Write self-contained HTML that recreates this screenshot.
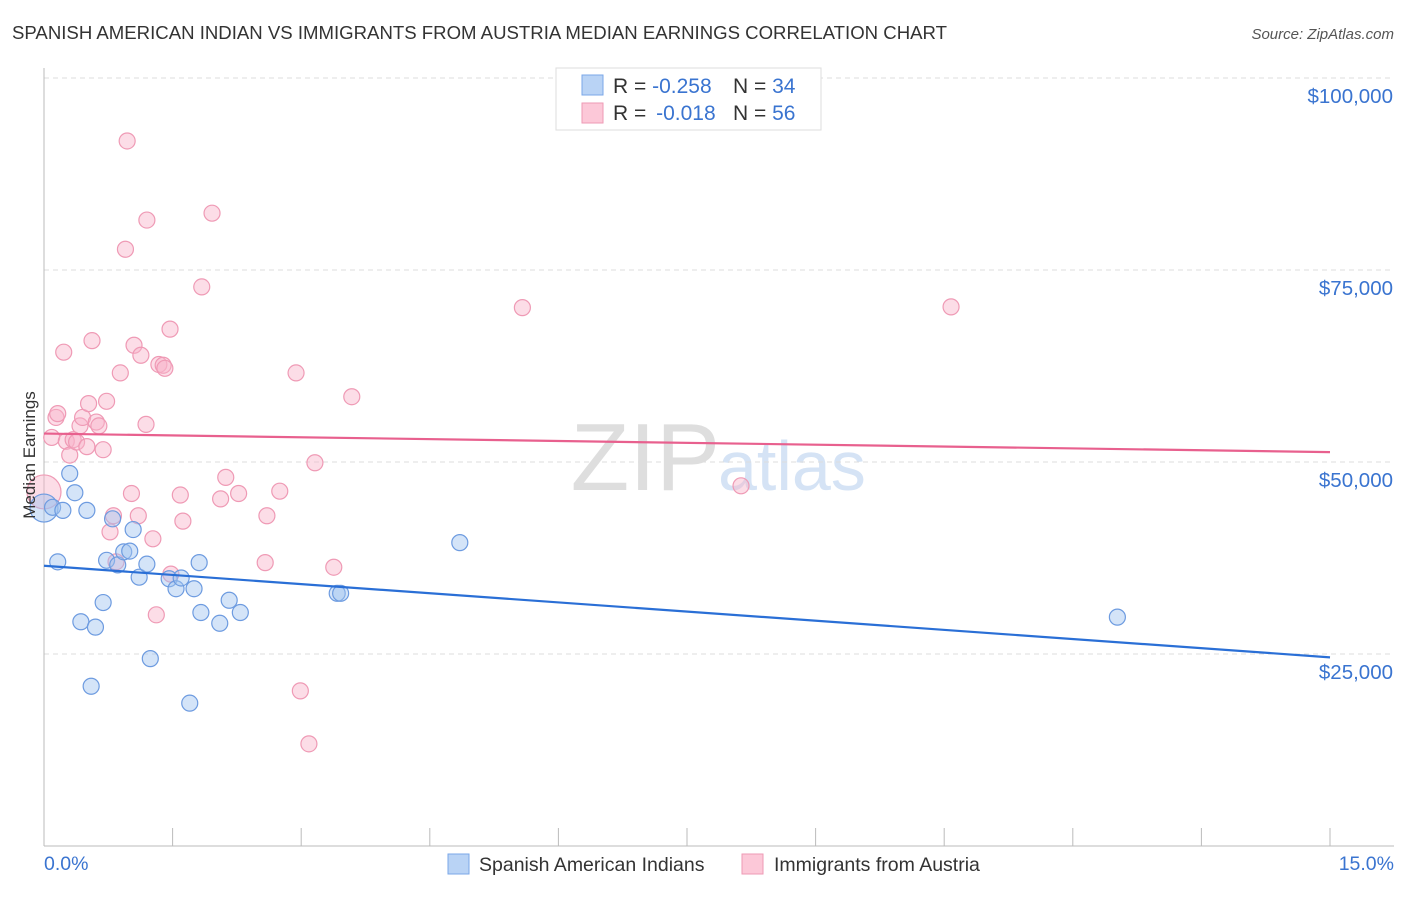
<!DOCTYPE html>
<html><head><meta charset="utf-8"><style>
body{margin:0;background:#fff;font-family:"Liberation Sans",sans-serif;}
svg text{font-family:"Liberation Sans",sans-serif;}
</style></head><body>
<svg id="chart" width="1406" height="892">
<text x="12" y="39" font-size="18.6" fill="#333">SPANISH AMERICAN INDIAN VS IMMIGRANTS FROM AUSTRIA MEDIAN EARNINGS CORRELATION CHART</text>
<text x="1394" y="39" font-size="15" fill="#555" text-anchor="end" font-style="italic">Source: ZipAtlas.com</text>
<text x="720" y="490" font-size="96" fill="#dedede" text-anchor="end" font-family="Liberation Serif">ZIP</text>
<text x="718" y="490" font-size="70" fill="#d5e3f5">atlas</text>
<g id="grid"></g>
<g id="axes"></g>
<g id="pts"></g>
<g id="trend"></g>
<text transform="translate(35,455) rotate(-90)" font-size="17" fill="#333" text-anchor="middle">Median Earnings</text>
<g>
<rect x="556" y="68" width="265" height="62" fill="#fff" stroke="#ddd"/>
<rect x="582" y="75" width="21" height="20" fill="#b9d3f5" stroke="#7aa7e8"/>
<rect x="582" y="103" width="21" height="20" fill="#fcc8d8" stroke="#ee9ab4"/>
<text x="613" y="93" font-size="21" fill="#333">R = <tspan fill="#3a74d0">-0.258</tspan><tspan x="733">N = </tspan><tspan fill="#3a74d0">34</tspan></text>
<text x="613" y="120" font-size="21" fill="#333">R = <tspan fill="#3a74d0" dx="4">-0.018</tspan><tspan x="733">N = </tspan><tspan fill="#3a74d0">56</tspan></text>
</g>
<g>
<rect x="448" y="854" width="21" height="20" fill="#b9d3f5" stroke="#7aa7e8"/>
<text x="479" y="871" font-size="19.5" fill="#333">Spanish American Indians</text>
<rect x="742" y="854" width="21" height="20" fill="#fcc8d8" stroke="#ee9ab4"/>
<text x="774" y="871" font-size="19.5" fill="#333">Immigrants from Austria</text>
</g>
</svg>
<script>
const yTicks=[25000,50000,75000,100000];
const yTickLabels=["$25,000","$50,000","$75,000","$100,000"];
const xTickLabels=["0.0%","15.0%"];
const blueX=[0,0.1,0.22,0.16,0.3,0.36,0.43,0.5,0.55,0.6,0.69,0.73,0.8,0.86,0.93,1.0,1.04,1.11,1.2,1.24,1.46,1.54,1.6,1.7,1.75,1.81,1.83,2.05,2.16,2.29,3.42,3.46,4.85,12.52];
const blueY=[44000,44100,43700,37000,48500,46000,29200,43700,20800,28500,31700,37200,42600,36600,38300,38400,41200,35000,36700,24400,34800,33500,34900,18600,33500,36900,30400,29000,32000,30400,32900,32900,39500,29800];
const pinkX=[0,0.09,0.14,0.16,0.23,0.26,0.3,0.34,0.38,0.42,0.45,0.5,0.52,0.56,0.61,0.64,0.69,0.73,0.77,0.81,0.84,0.89,0.95,0.97,1.02,1.05,1.1,1.13,1.19,1.2,1.27,1.31,1.34,1.39,1.41,1.47,1.48,1.59,1.62,1.84,1.96,2.06,2.12,2.27,2.58,2.6,2.75,2.94,2.99,3.09,3.16,3.38,3.59,5.58,8.13,10.58];
const pinkY=[46100,53200,55800,56300,64300,52700,50900,52900,52600,54700,55800,52000,57600,65800,55200,54700,51600,57900,40900,43000,37000,61600,77700,91800,45900,65200,43000,63900,54900,81500,40000,30100,62700,62600,62200,67300,35400,45700,42300,72800,82400,45200,48000,45900,36900,43000,46200,61600,20200,13300,49900,36300,58500,70100,46900,70200];
const X0=44,X1=1330,Y0=846,PX=(X1-X0)/15,PY=192/25000;
const xs=v=>X0+v*PX, ys=v=>Y0-v*PY;
const NS="http://www.w3.org/2000/svg";
function mk(tag,attrs,parent){const e=document.createElementNS(NS,tag);for(const k in attrs)e.setAttribute(k,attrs[k]);parent.appendChild(e);return e;}
const gridG=document.getElementById('grid'),axesG=document.getElementById('axes');
yTicks.forEach((t,i)=>{
  const l=mk('line',{x1:X0,x2:1394,y1:ys(t),y2:ys(t),stroke:'#ddd','stroke-dasharray':'5,4'},gridG);
  
  
  const tx=mk('text',{x:1393,y:ys(t)+25,'font-size':20.5,fill:'#3a74d0','text-anchor':'end'},axesG);
  tx.textContent=yTickLabels[i];
  
  
});
const ax=mk('line',{x1:X0,x2:1394,y1:Y0,y2:Y0,stroke:'#bbb'},axesG);


const ay=mk('line',{x1:X0,x2:X0,y1:68,y2:Y0,stroke:'#bbb'},axesG);


for(let i=0;i<=10;i++){const t=mk('line',{x1:xs(i*1.5),x2:xs(i*1.5),y1:Y0,y2:Y0-18,stroke:'#bbb'},axesG);

}
const xl0=mk('text',{x:44,y:870,'font-size':19.5,fill:'#3a74d0'},axesG);xl0.textContent=xTickLabels[0];


const xl1=mk('text',{x:1394,y:870,'font-size':19.5,fill:'#3a74d0','text-anchor':'end'},axesG);xl1.textContent=xTickLabels[1];


const ptsG=document.getElementById('pts');
pinkX.forEach((x,i)=>{const c=mk('circle',{cx:xs(x),cy:ys(pinkY[i]),r:i==0?17:8,fill:'rgba(249,180,202,0.45)',stroke:'#ef9ab5','stroke-width':1.2},ptsG);

});
blueX.forEach((x,i)=>{const c=mk('circle',{cx:xs(x),cy:ys(blueY[i]),r:i==0?14:8,fill:'rgba(160,196,240,0.45)',stroke:'#6d9be0','stroke-width':1.2},ptsG);

});
function fit(X,Y){const n=X.length,mx=X.reduce((a,b)=>a+b)/n,my=Y.reduce((a,b)=>a+b)/n;let sxy=0,sxx=0;X.forEach((x,i)=>{sxy+=(x-mx)*(Y[i]-my);sxx+=(x-mx)**2;});const b=sxy/sxx;return [my-b*mx,b];}
const trG=document.getElementById('trend');
[[blueX,blueY,'#2a6fd6','trend-spanish'],[pinkX,pinkY,'#e8608e','trend-austria']].forEach(([X,Y,c,n])=>{
const [a,b]=fit(X,Y);const l=mk('line',{x1:xs(0),y1:ys(a),x2:xs(15),y2:ys(a+b*15),stroke:c,'stroke-width':2.2},trG);

});
</script>
</body></html>
